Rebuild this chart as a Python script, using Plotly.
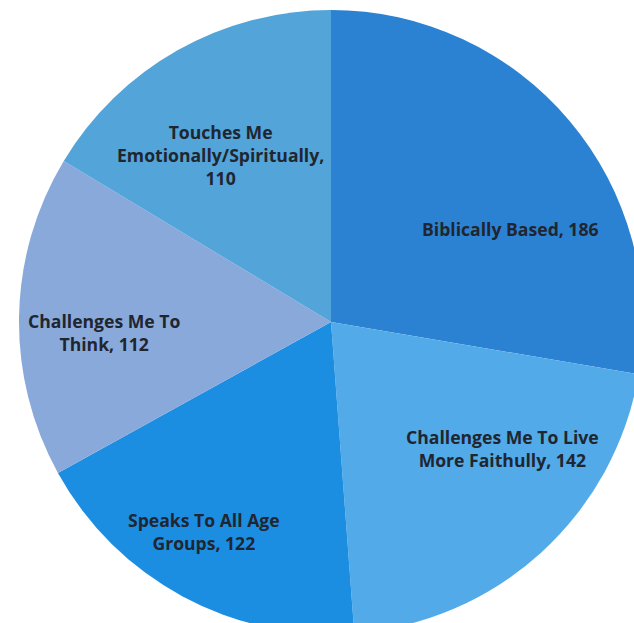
import plotly.graph_objects as go

# Data
labels = [
    "Biblically Based",
    "Challenges Me To Live More Faithully",
    "Speaks To All Age Groups",
    "Challenges Me To Think",
    "Touches Me Emotionally/Spiritually",
]
values = [186, 142, 122, 112, 110]
label_lines = [
    "Biblically Based, {v}",
    "Challenges Me To Live<br>More Faithully, {v}",
    "Speaks To All Age<br>Groups, {v}",
    "Challenges Me To<br>Think, {v}",
    "Touches Me<br>Emotionally/Spiritually,<br>{v}",
]
colors = ["#2c82d2", "#52aae8", "#1c8ee2", "#8aa9db", "#53a4d8"]

# label anchor points (pixels within figure)
label_px = [(511, 229), (502, 448), (204, 531), (104, 333), (220, 155)]

W, H = 662, 644

fig = go.Figure(
    go.Pie(
        labels=labels,
        values=values,
        sort=False,
        direction="clockwise",
        rotation=0,
        marker=dict(colors=colors, line=dict(width=0)),
        textinfo="none",
        hoverinfo="label+value",
        domain=dict(x=[0, 1], y=[0.0155, 0.9845]),
        showlegend=False,
    )
)

annotations = []
for tmpl, v, (px, py) in zip(label_lines, values, label_px):
    annotations.append(
        dict(
            text="<b>" + tmpl.format(v=v) + "</b>",
            x=px / W,
            y=1 - py / H,
            xref="paper",
            yref="paper",
            xanchor="center",
            yanchor="middle",
            showarrow=False,
            align="center",
            font=dict(family="Open Sans", size=17.6, color="#1f2630"),
        )
    )

fig.update_layout(
    width=W,
    height=H,
    margin=dict(l=0, r=0, t=0, b=0),
    paper_bgcolor="white",
    plot_bgcolor="white",
    annotations=annotations,
)

fig.write_html(
    "out.html",
    config={"displayModeBar": False},
    post_script="document.body.style.margin='0';document.body.style.overflow='hidden';document.documentElement.style.overflow='hidden';",
)
